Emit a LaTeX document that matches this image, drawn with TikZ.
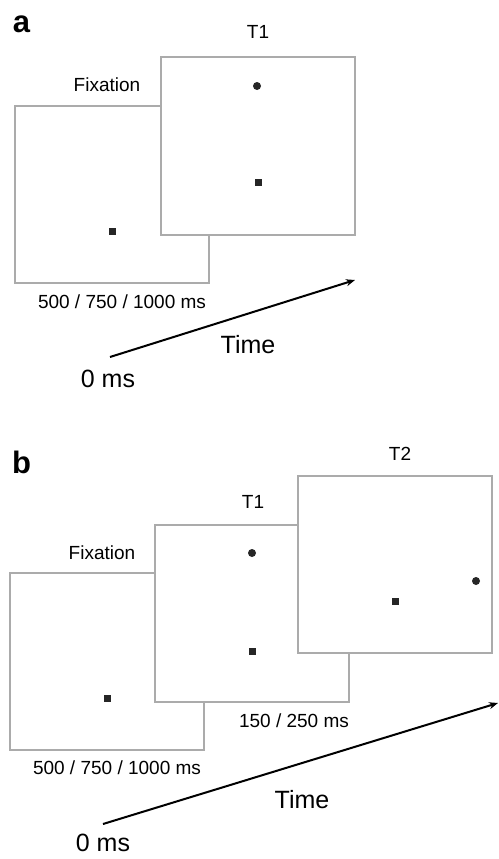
\documentclass[tikz,border=0pt]{standalone}
\usepackage{fontspec}
\setmainfont{Liberation Sans}
\usetikzlibrary{arrows.meta}
\begin{document}
\begin{tikzpicture}[x=1pt,y=-1pt,
  screen/.style={draw=black!33,line width=2pt,fill=white,minimum width=194pt,minimum height=177pt,inner sep=0pt,outer sep=0pt},
  lbl/.style={font=\fontsize{19}{21}\selectfont,inner sep=0pt},
  big/.style={font=\fontsize{25}{28}\selectfont,inner sep=0pt},
  panel/.style={font=\fontsize{31}{33}\selectfont\bfseries,inner sep=0pt},
  sq/.style={fill=black!85,minimum size=7pt,inner sep=0pt},
  dot/.style={circle,fill=black!85,minimum size=8pt,inner sep=0pt},
  timearrow/.style={line width=2pt,-{Stealth[length=9pt,width=7pt]}}]
\useasboundingbox (0,0) rectangle (498,859);
% ---------- panel a ----------
\node[panel] (pa) at (21.5,24) {a};
\node[screen] (fa) at (112,194.5) {};
\node[screen] (ta) at (257.5,146) {};
\node[lbl] (fixa) at (107,85) {Fixation};
\node[lbl] (t1a) at (258,32) {T1};
\node[sq] (fsqa) at (112,231) {};
\node[dot] (tdota) at (257,86) {};
\node[sq] (tsqa) at (258,182) {};
\node[lbl] (dura) at (122,302) {500 / 750 / 1000 ms};
\coordinate (a0) at (110,357);
\coordinate (a1) at (355,280);
\draw[timearrow] (a0) -- (a1);
\node[big] (timea) at (248,345) {Time};
\node[big] (zeroa) at (108,379) {0 ms};
% ---------- panel b ----------
\node[panel] (pb) at (21.5,462) {b};
\node[screen] (fb) at (106.5,661.5) {};
\node[screen] (tb) at (251.5,613.5) {};
\node[screen] (t2b) at (395,564) {};
\node[lbl] (fixb) at (102,553) {Fixation};
\node[lbl] (t1b) at (253,502) {T1};
\node[lbl] (t2lb) at (400,454) {T2};
\node[sq] (fsqb) at (107,698) {};
\node[dot] (tdotb) at (252,553) {};
\node[sq] (tsqb) at (252,651) {};
\node[sq] (t2sqb) at (395,601) {};
\node[dot] (t2dotb) at (476,581) {};
\node[lbl] (dur1b) at (294,721) {150 / 250 ms};
\node[lbl] (durb) at (117,768) {500 / 750 / 1000 ms};
\coordinate (b0) at (103,824);
\coordinate (b1) at (498,703);
\draw[timearrow] (b0) -- (b1);
\node[big] (timeb) at (302,800) {Time};
\node[big] (zerob) at (103,843) {0 ms};
\end{tikzpicture}
\end{document}
